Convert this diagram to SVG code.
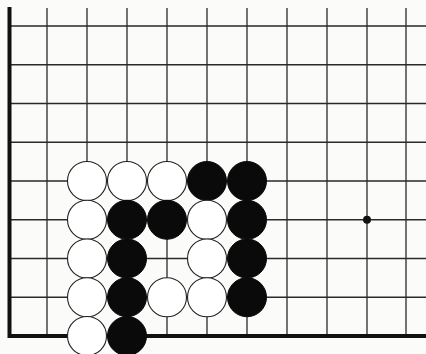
<svg xmlns="http://www.w3.org/2000/svg" width="426" height="354" viewBox="0 0 426 354">
<style>
.g{stroke:#2a2a2a;stroke-width:1.3;fill:none}
.e{stroke:#111;stroke-width:4;fill:none}
.w{fill:#fff;stroke:#222;stroke-width:1.1}
.b{fill:#0a0a0a;stroke:#0a0a0a;stroke-width:1}
</style>
<rect width="426" height="354" fill="#fbfbf9"/>
<g id="grid">
<path class="g" d="M9 26H426M9 64.75H426M9 103.5H426M9 142.25H426M9 181H426M9 219.75H426M9 258.5H426M9 297.25H426"/>
<path class="g" d="M47 8V336M87 8V336M127 8V336M167 8V336M207 8V336M247 8V336M287 8V336M327 8V336M367 8V336M406 8V336"/>
<path class="e" d="M9.5 7V336H426"/>
<circle cx="367" cy="219.75" r="4" fill="#111"/>
</g>
<g id="stones">
<circle id="w1" class="w" cx="87" cy="181" r="19.5"/>
<circle id="w2" class="w" cx="127" cy="181" r="19.5"/>
<circle id="w3" class="w" cx="167" cy="181" r="19.5"/>
<circle id="b1" class="b" cx="207" cy="181" r="19.5"/>
<circle id="b2" class="b" cx="247" cy="181" r="19.5"/>
<circle id="w4" class="w" cx="87" cy="219.75" r="19.5"/>
<circle id="b3" class="b" cx="127" cy="219.75" r="19.5"/>
<circle id="b4" class="b" cx="167" cy="219.75" r="19.5"/>
<circle id="w5" class="w" cx="207" cy="219.75" r="19.5"/>
<circle id="b5" class="b" cx="247" cy="219.75" r="19.5"/>
<circle id="w6" class="w" cx="87" cy="258.5" r="19.5"/>
<circle id="b6" class="b" cx="127" cy="258.5" r="19.5"/>
<circle id="w7" class="w" cx="207" cy="258.5" r="19.5"/>
<circle id="b7" class="b" cx="247" cy="258.5" r="19.5"/>
<circle id="w8" class="w" cx="87" cy="297.25" r="19.5"/>
<circle id="b8" class="b" cx="127" cy="297.25" r="19.5"/>
<circle id="w9" class="w" cx="167" cy="297.25" r="19.5"/>
<circle id="w10" class="w" cx="207" cy="297.25" r="19.5"/>
<circle id="b9" class="b" cx="247" cy="297.25" r="19.5"/>
<circle id="w11" class="w" cx="87" cy="336" r="19.5"/>
<circle id="b10" class="b" cx="127" cy="336" r="19.5"/>
</g>
</svg>
